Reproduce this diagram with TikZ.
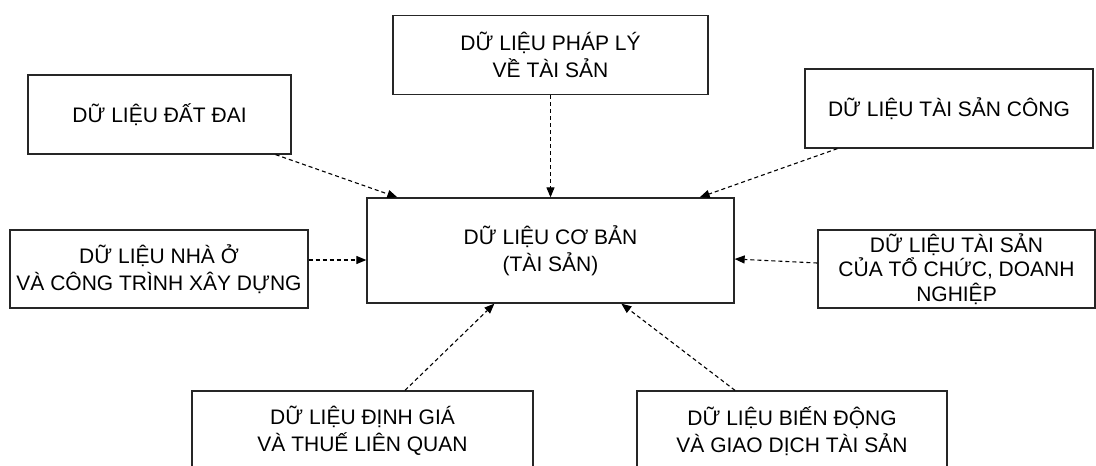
\documentclass[tikz,border=0pt]{standalone}
\usepackage{fontspec}
\setmainfont{Liberation Sans}
\usetikzlibrary{arrows.meta}

\begin{document}
\begin{tikzpicture}[x=1pt, y=-1pt,
draw=black!85, font=\fontsize{21}{27}\selectfont]
    \tikzstyle{box}=[rectangle, draw=black!85, line width=1.3pt, align=center, inner sep=2pt];
    \tikzstyle{link}=[draw=black, line width=1.1pt, dash pattern=on 4pt off 3pt,
                      -{Triangle[length=10pt,width=8pt]}];

\useasboundingbox (0,0) rectangle (1096,466);
\clip (0,0) rectangle (1096,466);

\node[box, minimum width=367pt, minimum height=105pt] (base) at (550.5,250.5) {DỮ LIỆU CƠ BẢN\\(TÀI SẢN)};
\node[box, minimum width=315pt, minimum height=79pt] (phaply) at (550.5,55) {DỮ LIỆU PHÁP LÝ\\VỀ TÀI SẢN};
\node[box, minimum width=263pt, minimum height=79pt] (datdai) at (159.5,114.5) {DỮ LIỆU ĐẤT ĐAI};
\node[box, minimum width=288pt, minimum height=79pt] (congsan) at (949,108.5) {DỮ LIỆU TÀI SẢN CÔNG};
\node[box, minimum width=298pt, minimum height=78pt] (nhao) at (159,269) {DỮ LIỆU NHÀ Ở\\VÀ CÔNG TRÌNH XÂY DỰNG};
\node[box, minimum width=277pt, minimum height=78pt, font=\fontsize{21}{24.5}\selectfont] (tochuc) at (956.5,269) {DỮ LIỆU TÀI SẢN\\CỦA TỔ CHỨC, DOANH\\NGHIỆP};
\node[box, minimum width=341pt, minimum height=80pt] (dinhgia) at (362.5,431) {DỮ LIỆU ĐỊNH GIÁ\\VÀ THUẾ LIÊN QUAN};
\node[box, minimum width=310pt, minimum height=80pt] (biendong) at (792,431) {DỮ LIỆU BIẾN ĐỘNG\\VÀ GIAO DỊCH TÀI SẢN};

%\draw[link] (datdai) -- (base);
\draw[link] ([xshift=-16pt]datdai.south east) -- ([xshift=31pt]base.north west);
\draw[link] (phaply.south) -- (base.north);
\draw[link] ([xshift=33pt]congsan.south west) -- ([xshift=-35pt]base.north east);
\draw[link] ([yshift=9pt]nhao.east) -- ([yshift=9pt]nhao.east -| base.west);
\draw[link] ([yshift=6pt]tochuc.west) -- ([yshift=-8.5pt]base.east);
\draw[link] ([xshift=42.5pt]dinhgia.north) -- ([xshift=128pt]base.south west);
\draw[link] ([xshift=-57pt]biendong.north) -- ([xshift=255pt]base.south west);
\end{tikzpicture}
\end{document}
